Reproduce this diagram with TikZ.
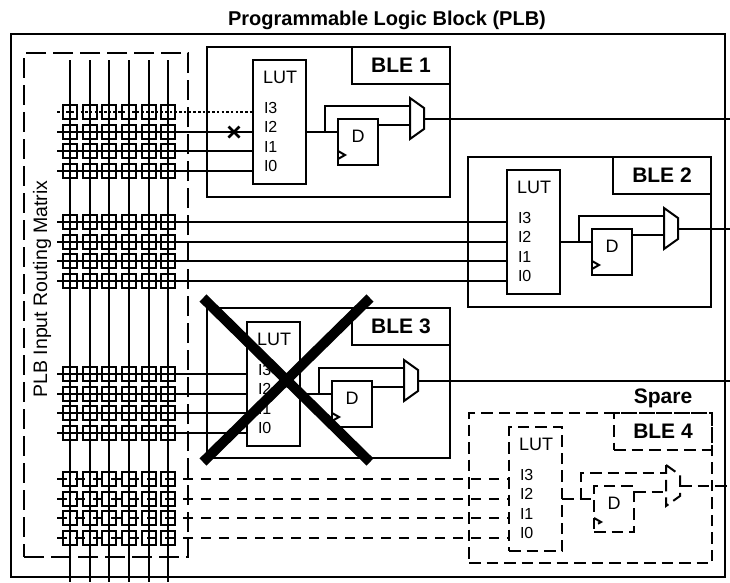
\documentclass[tikz,border=0pt]{standalone}
\usepackage{fontspec}
\setmainfont{Liberation Sans}
\usepackage{tikz}
\usetikzlibrary{shapes.misc,positioning}

\begin{document}
\begin{tikzpicture}[x=1pt,y=-1pt,
  line width=2pt,
  box/.style={draw,rectangle,inner sep=0pt,outer sep=0pt},
  xpt/.style={box,solid,line width=2.1pt,minimum size=13.5pt},
  plain/.style={},
  spare/.style={dash pattern=on 11.5pt off 6pt},
  row-1-3/.style={dash pattern=on 2.5pt off 2.2pt},
  row-4/.style={dash pattern=on 10pt off 8pt},
  lab/.style={inner sep=0pt,font=\fontsize{16}{18}\selectfont},
  ble/.style={inner sep=0pt,font=\fontsize{21}{24}\selectfont\bfseries},
]
  \useasboundingbox (0,0) rectangle (730,582);
  \coordinate (edge) at (730,0);

  \node[box,minimum width=714pt,minimum height=543pt,anchor=north west] (plb) at (11,34) {};
  \node[inner sep=0pt,font=\fontsize{20}{22}\selectfont\bfseries] (title) at (387,20) {Programmable Logic Block (PLB)};
  \node[box,minimum width=164pt,minimum height=504pt,anchor=north west,dash pattern=on 20pt off 7pt] (irm) at (24,53) {};
  \node[inner sep=0pt,rotate=90,font=\fontsize{19.5}{21}\selectfont] (irmlab) at (42,289) {PLB Input Routing Matrix};

  % logic elements
  \foreach \i/\bx/\by/\cx/\cy/\st in {1/207/47/0/0/plain,2/468/157/254/110/plain,3/207/308/-6/262/plain,4/469/413/256/367/spare} {
    \begin{scope}[\st]
      \node[box,minimum width=243pt,minimum height=150pt,anchor=north west] (ble\i) at (\bx,\by) {};
      \node[box,minimum width=98pt,minimum height=37pt,anchor=north east] (tag\i) at (ble\i.north east) {};
      \node[ble] (name\i) at (tag\i) {BLE \i};
    \end{scope}
    \begin{scope}[shift={(\cx,\cy)},\st]
      \node[box,minimum width=53pt,minimum height=124pt,anchor=north west] (lut\i) at (253,60) {};
      \node[inner sep=0pt,font=\fontsize{18}{20}\selectfont] (luttxt\i) at (280,77) {LUT};
      \foreach \j/\ly in {3/108,2/127,1/147,0/166}
        \node[lab,anchor=west] (pin\i\j) at (263,\ly) {I\j};
      \node[box,minimum width=40pt,minimum height=46pt,anchor=north west] (ff\i) at (338,119) {};
      \node[inner sep=0pt,font=\fontsize{18}{20}\selectfont] (fftxt\i) at (358,136) {D};
      \coordinate (q\i) at (325,132);
      \coordinate (ma\i) at (410,106);
      \coordinate (mb\i) at (410,125);
      \coordinate (mo\i) at (424,119);
      \draw (410,98) -- (424,108) -- (424,129) -- (410,139) -- cycle;
      \draw (ff\i.west |- 0,151) -- (345,155) -- (ff\i.west |- 0,159);
      \draw (q\i -| lut\i.east) -- (q\i -| ff\i.west);
      \draw (q\i) |- (ma\i);
      \draw (mb\i -| ff\i.east) -- (mb\i);
      \draw (mo\i) -- (mo\i -| edge);
    \end{scope}
  }
  \node[ble] (sparelab) at (663,398) {Spare};

  % routing matrix
  \foreach \k/\x in {1/70,2/90,3/109,4/129,5/149,6/168} {
    \coordinate (vt\k) at (\x,60);
    \coordinate (vb\k) at (\x,582);
    \draw (vt\k) -- (vb\k);
  }
  \foreach \i/\y in {1/112,2/222,3/374,4/479} {
    \foreach \j/\dy in {3/0,2/20,1/39,0/59} {
      \coordinate (r\i\j) at (57,\y+\dy);
      \draw[row-\i/.try,row-\i-\j/.try] (r\i\j) -- (r\i\j -| lut\i.west);
      \foreach \k/\x in {1/70,2/90,3/109,4/129,5/149,6/168}
        \node[xpt] (s\i\j\k) at (\x,\y+\dy) {};
    }
  }

  \node[cross out,draw,line width=2.5pt,inner sep=0pt,outer sep=0pt,minimum size=11pt] (cut) at (234,132) {};
  \node[cross out,draw,line width=10pt,inner sep=0pt,outer sep=0pt,minimum width=167pt,minimum height=164pt] (dead) at (286.5,380) {};
\end{tikzpicture}
\end{document}
